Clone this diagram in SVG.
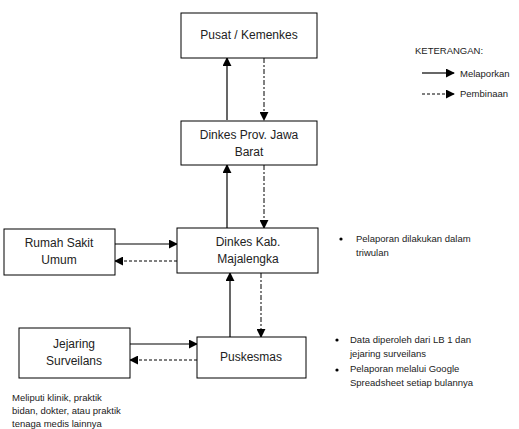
<svg xmlns="http://www.w3.org/2000/svg" width="519" height="429" viewBox="0 0 519 429">
<style>
.box{fill:#fff;stroke:#000;stroke-width:1}
.t{font-family:"Liberation Sans",Arial,sans-serif;font-size:12px;fill:#222;text-anchor:middle}
.s{font-family:"Liberation Sans",Arial,sans-serif;font-size:9.5px;fill:#222}
.solid{stroke:#000;stroke-width:1.2;fill:none;marker-end:url(#ah)}
.dash{stroke:#000;stroke-width:1;fill:none;stroke-dasharray:3,2;marker-end:url(#ah)}
.dd{stroke:#000;stroke-width:1;fill:none;stroke-dasharray:5,2,2,2;marker-end:url(#ah)}
</style>
<defs>
<marker id="ah" viewBox="0 0 10 10" refX="9" refY="5" markerWidth="9" markerHeight="9" markerUnits="userSpaceOnUse" orient="auto">
<path d="M0,0 L10,5 L0,10 z" fill="#000"/>
</marker>
</defs>
<rect width="519" height="429" fill="#fff"/>
<g id="connectors">
<line class="solid" x1="227" y1="120" x2="227" y2="58"/>
<line class="dd" x1="264" y1="58" x2="264" y2="120"/>
<line class="solid" x1="227" y1="228" x2="227" y2="165"/>
<line class="dd" x1="264" y1="165" x2="264" y2="228"/>
<line class="solid" x1="115" y1="244" x2="177" y2="244"/>
<line class="dash" x1="177" y1="261" x2="115" y2="261"/>
<line class="solid" x1="230" y1="337" x2="230" y2="273"/>
<line class="dd" x1="261" y1="273" x2="261" y2="337"/>
<line class="solid" x1="130" y1="344" x2="197" y2="344"/>
<line class="dash" x1="197" y1="360" x2="130" y2="360"/>
</g>
<g id="pusat"><rect class="box" x="181" y="13" width="136" height="45"/><text class="t" x="249" y="39">Pusat / Kemenkes</text></g>
<g id="prov"><rect class="box" x="181" y="121" width="136" height="44"/><text class="t" x="249" y="139">Dinkes Prov. Jawa</text><text class="t" x="249" y="156">Barat</text></g>
<g id="kab"><rect class="box" x="177" y="228" width="141" height="45"/><text class="t" x="248" y="246">Dinkes Kab.</text><text class="t" x="248" y="263">Majalengka</text></g>
<g id="rsu"><rect class="box" x="4" y="229" width="111" height="46"/><text class="t" x="59" y="247">Rumah Sakit</text><text class="t" x="59" y="264">Umum</text></g>
<g id="puskesmas"><rect class="box" x="197" y="337" width="109" height="41"/><text class="t" x="251" y="361">Puskesmas</text></g>
<g id="jejaring"><rect class="box" x="19" y="328" width="111" height="50"/><text class="t" x="74" y="348">Jejaring</text><text class="t" x="74" y="365">Surveilans</text></g>
<g id="legend">
<text class="s" x="415" y="54">KETERANGAN:</text>
<line class="solid" x1="422" y1="73" x2="454" y2="73"/>
<text class="s" x="460" y="77">Melaporkan</text>
<line class="dash" x1="422" y1="94" x2="454" y2="94"/>
<text class="s" x="460" y="97">Pembinaan</text>
</g>
<g id="notes">
<circle cx="341" cy="239" r="1.6" fill="#000"/>
<text class="s" x="356" y="242">Pelaporan dilakukan dalam</text>
<text class="s" x="356" y="256">triwulan</text>
<circle cx="337" cy="340" r="1.6" fill="#000"/>
<text class="s" x="350" y="343">Data diperoleh dari LB 1 dan</text>
<text class="s" x="350" y="357">jejaring surveilans</text>
<circle cx="337" cy="370" r="1.6" fill="#000"/>
<text class="s" x="350" y="372">Pelaporan melalui Google</text>
<text class="s" x="350" y="386">Spreadsheet setiap bulannya</text>
<text class="s" x="12" y="401">Meliputi klinik, praktik</text>
<text class="s" x="12" y="414">bidan, dokter, atau praktik</text>
<text class="s" x="12" y="427">tenaga medis lainnya</text>
</g>
</svg>
